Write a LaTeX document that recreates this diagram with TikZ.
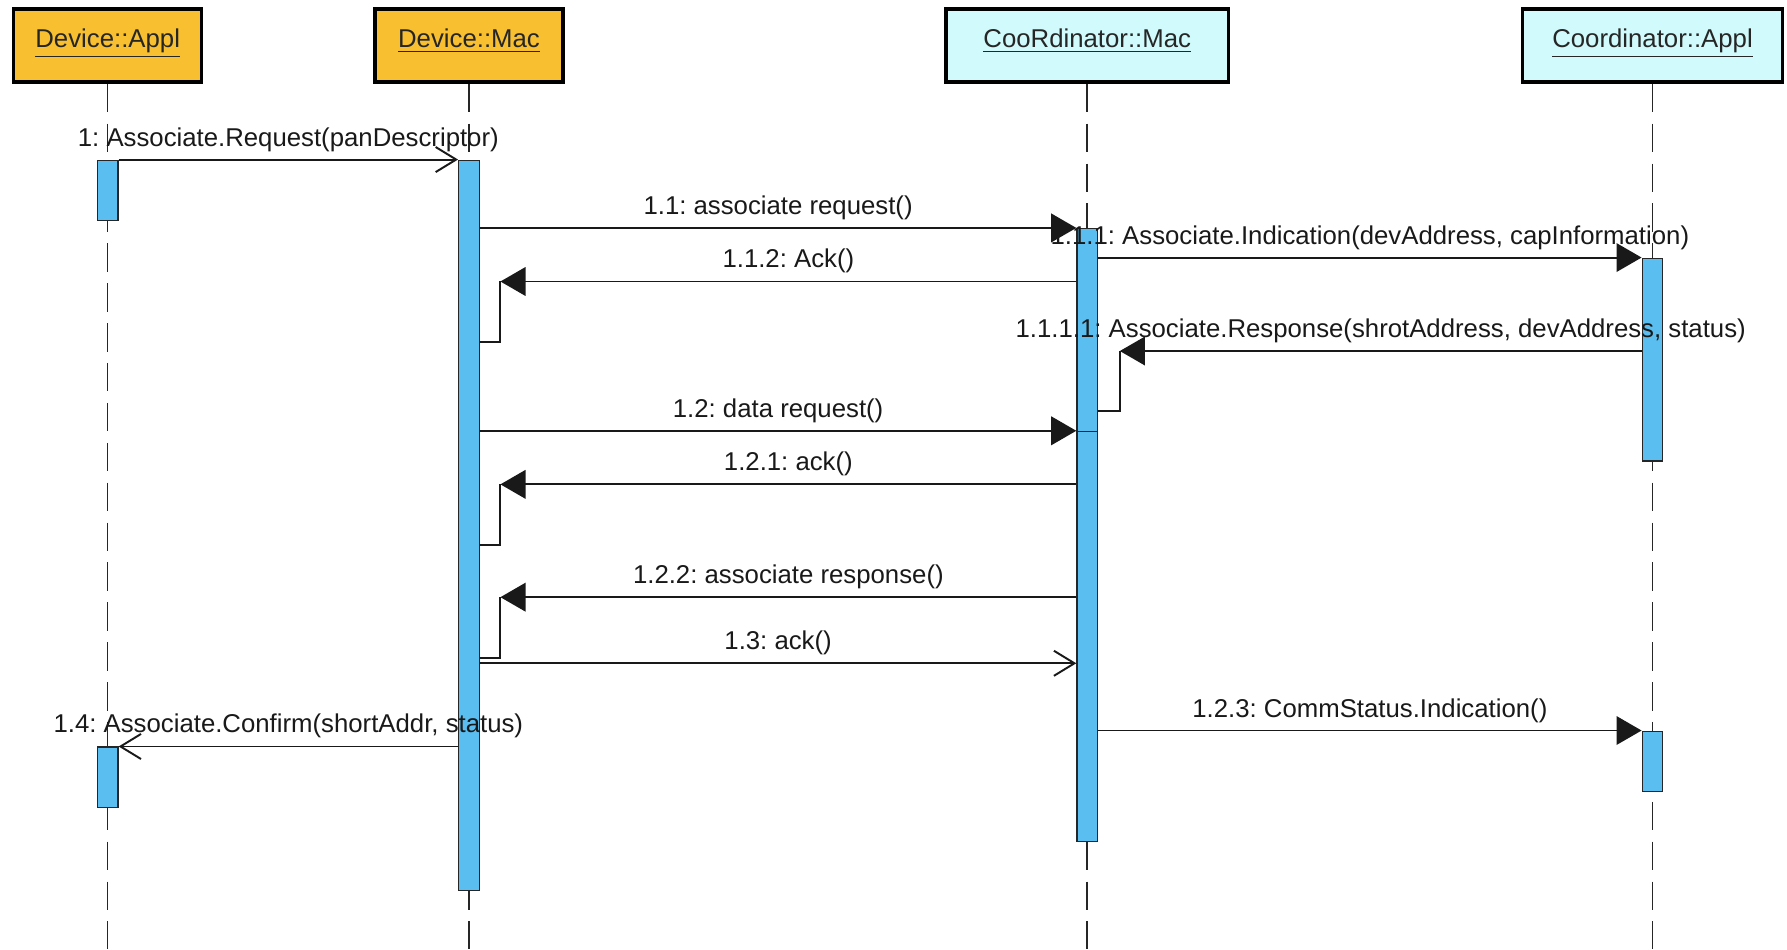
\documentclass[tikz,border=0pt]{standalone}
\usepackage{fontspec}
\setmainfont{Liberation Sans}
\usetikzlibrary{arrows.meta,calc}
\definecolor{devfill}{HTML}{F8C030}
\definecolor{coordfill}{HTML}{D0FAFB}
\definecolor{actblue}{HTML}{5ABEF0}
\begin{document}
\begin{tikzpicture}[x=0.5pt, y=-0.5pt,
        font=\fontsize{11.3}{13}\selectfont\frenchspacing,
        head/.style={draw=black, line width=1.5pt, minimum height=32pt, inner sep=0pt,
            text height=8pt, text depth=6pt, text=black!85},
        life/.style={black!85, line width=0.7pt, dash pattern=on 12.5pt off 5pt},
        act/.style={draw=black!85, fill=actblue, line width=0.6pt, minimum width=9pt,
            inner sep=0pt, anchor=north},
        msg/.style={black!90, line width=0.85pt},
        call/.style={msg, -{Triangle[length=11pt, width=12.5pt]}},
        async/.style={msg, -{Straight Barb[length=9pt, width=11pt]}},
        lbl/.style={above=5.5pt, inner sep=0pt, text depth=0pt, text=black!90}]
        \useasboundingbox (0,0) rectangle (1568,833);

        \node[head, fill=devfill, minimum width=82.5pt] (da) at (94.5,40) {\underline{Device::Appl}};
        \node[head, fill=devfill, minimum width=82.5pt] (dm) at (411.5,40) {\underline{Device::Mac}};
        \node[head, fill=coordfill, minimum width=124pt] (cm) at (954,40) {\underline{CooRdinator::Mac}};
        \node[head, fill=coordfill, minimum width=114pt] (ca) at (1450,40) {\underline{Coordinator::Appl}};

        \draw[life] (da.south) -- (da.south |- 0,833);
        \draw[life] (dm.south) -- (dm.south |- 0,833);
        \draw[life] (cm.south) -- (cm.south |- 0,833);
        \draw[life] (ca.south) -- (ca.south |- 0,833);

        \node[act, minimum height=26.5pt] (da1) at (da.south |- 0,140) {};
        \node[act, minimum height=26.5pt] (da2) at (da.south |- 0,655) {};
        \node[act, minimum height=320.5pt] (dm1) at (dm.south |- 0,140) {};
        \node[act, minimum height=89pt] (cm1) at (cm.south |- 0,200) {};
        \node[act, minimum height=180pt] (cm2) at (cm.south |- 0,378) {};
        \node[act, minimum height=89pt] (ca1) at (ca.south |- 0,226) {};
        \node[act, minimum height=26.5pt] (ca2) at (ca.south |- 0,641) {};

        \coordinate (r1) at ($(dm1.east |- 0,247)+(18,0)$);
        \coordinate (r2) at ($(cm1.east |- 0,308)+(19,0)$);
        \coordinate (r3) at ($(dm1.east |- 0,425)+(18,0)$);
        \coordinate (r4) at ($(dm1.east |- 0,524)+(18,0)$);

        \draw[async] (da1.north east) -- node[lbl] {1: Associate.Request(panDescriptor)} (dm1.north west);
        \draw[call] (dm1.east |- cm1.north) -- node[lbl] {1.1: associate request()} (cm1.north west);
        \draw[call] (cm1.east |- ca1.north) -- node[lbl] {1.1.1: Associate.Indication(devAddress, capInformation)} (ca1.north west);
        \draw[call] (cm1.west |- r1) -- node[lbl] {1.1.2: Ack()} (r1);
        \draw[msg] (r1) |- (dm1.east |- 0,300);
        \draw[call] (ca1.west |- r2) -- node[lbl] {1.1.1.1: Associate.Response(shrotAddress, devAddress, status)} (r2);
        \draw[msg] (r2) |- (cm1.east |- 0,361);
        \draw[call] (dm1.east |- cm2.north) -- node[lbl] {1.2: data request()} (cm2.north west);
        \draw[call] (cm2.west |- r3) -- node[lbl] {1.2.1: ack()} (r3);
        \draw[msg] (r3) |- (dm1.east |- 0,478);
        \draw[call] (cm2.west |- r4) -- node[lbl] {1.2.2: associate response()} (r4);
        \draw[msg] (r4) |- (dm1.east |- 0,577);
        \draw[async] (dm1.east |- 0,582) -- node[lbl] {1.3: ack()} (cm2.west |- 0,582);
        \draw[call] (cm2.east |- ca2.north) -- node[lbl] {1.2.3: CommStatus.Indication()} (ca2.north west);
        \draw[async] (dm1.west |- da2.north) -- node[lbl] {1.4: Associate.Confirm(shortAddr, status)} (da2.north east);
\end{tikzpicture}
\end{document}
